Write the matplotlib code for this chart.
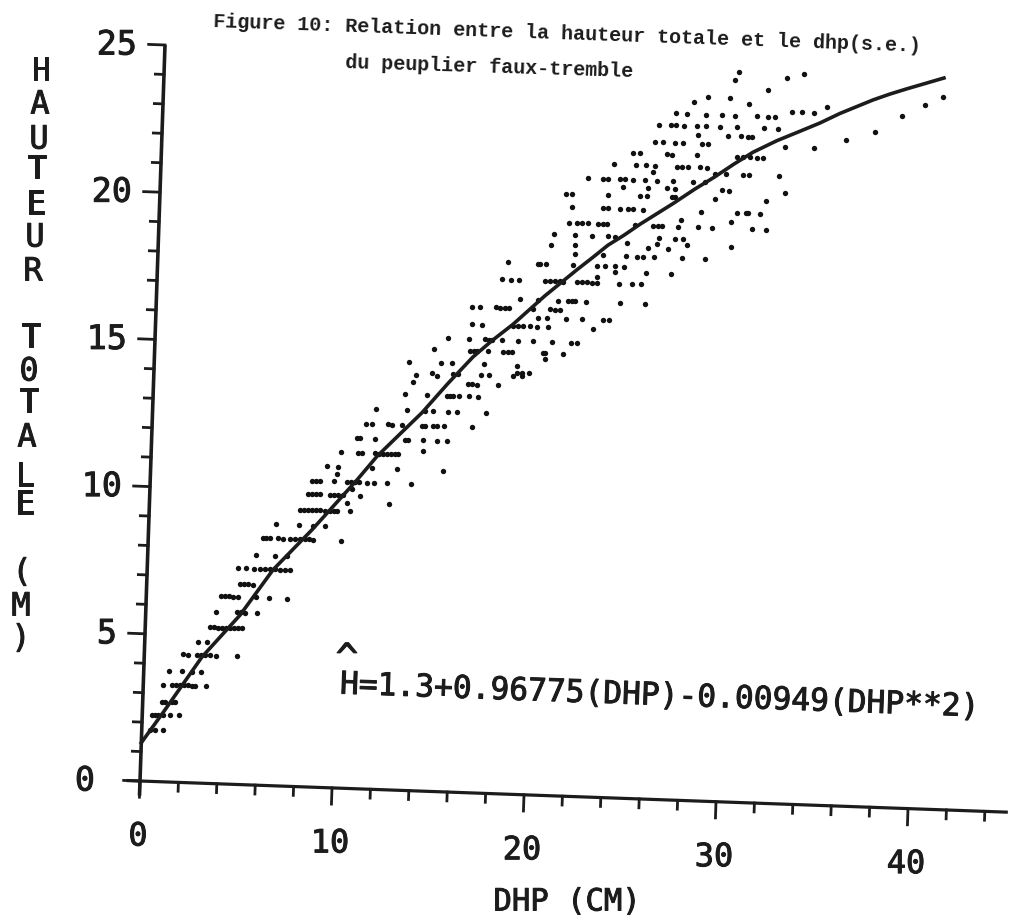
import matplotlib
matplotlib.use("Agg")
import matplotlib.pyplot as plt
import matplotlib.patheffects as pe
import numpy as np
from matplotlib.transforms import Affine2D

# heights come in rows on the printout, so the dots are kept row by row
row_heights = [1.75, 2.27, 2.72, 3.3, 3.77, 4.35, 4.8, 5.3, 5.84, 6.37,
               6.8, 7.34, 7.8, 8.4, 8.87, 9.4, 9.7, 9.95, 10.15, 10.4,
               10.65, 10.9, 11.4, 11.55, 11.9, 12.4, 12.9, 13.45, 13.86, 14.1,
               14.2, 14.3, 14.55, 14.8, 15.0, 15.4, 15.9, 16.2, 16.5, 16.8,
               17.46, 17.65, 17.85, 18.04, 18.4, 18.7, 18.85, 19.05, 19.46, 19.7,
               20.0, 20.45, 20.75, 21.0, 21.3, 21.5, 21.9, 22.3, 22.6, 22.9,
               23.3, 23.5, 23.7, 23.9, 24.2, 24.5, 24.65, 24.8]
row_dhp = [
    [0.43, 0.69, 1.11],
    [0.51, 0.66, 0.82, 1.08, 1.44, 1.91],
    [1.0, 1.16, 1.53, 1.68],
    [1.03, 1.49, 1.70, 1.91, 2.12, 2.33, 2.54, 2.69, 3.27],
    [1.31, 1.99, 2.51, 2.98],
    [2.01, 2.27, 2.74, 2.95, 3.16, 3.42, 3.73, 4.83],
    [2.77, 3.24],
    [3.37, 3.58, 3.79, 4.0, 4.2, 4.41, 4.62, 4.83, 5.04],
    [3.65, 4.75, 4.96, 5.16, 5.79],
    [3.89, 4.09, 4.30, 4.51, 4.77, 5.71, 6.39, 7.32],
    [4.85, 5.06, 5.27, 5.53],
    [4.72, 5.14, 5.56, 5.87, 6.13, 6.39, 6.65, 6.91, 7.17, 7.43],
    [5.64, 6.63, 7.25],
    [5.97, 6.13, 6.33, 6.75, 7.01, 7.38, 7.64, 7.90, 8.16, 8.36, 8.57, 10.03],
    [6.62, 7.82, 8.55, 9.18],
    [7.84, 8.05, 8.26, 8.47, 8.68, 8.89, 9.15, 9.41, 9.62, 9.77, 10.45],
    [10.28, 12.46],
    [8.23, 8.44, 8.65, 8.85, 9.38, 9.58, 9.79, 10.05, 10.94],
    [10.51],
    [8.42, 8.62, 8.83, 9.56, 10.24, 10.45, 10.66, 10.86, 11.28, 11.65, 12.32, 13.57],
    [9.7],
    [9.17, 9.74, 11.52, 12.82, 15.21],
    [9.88, 10.76, 10.97, 11.65, 11.85, 12.06, 12.27, 12.48, 12.69, 12.84],
    [14.14],
    [10.68, 10.84, 11.62, 13.18, 13.34, 14.12, 14.85, 15.37],
    [11.14, 11.44, 12.27, 12.48, 13.0, 14.04, 14.2, 14.62, 14.82, 15.19, 16.65],
    [11.62, 13.23, 14.17, 14.59, 15.37, 15.84, 17.35],
    [13.1, 14.25, 15.29, 15.44, 15.6, 15.91, 16.43, 16.9],
    [13.49, 16.36, 16.57, 16.83, 17.92],
    [13.64, 14.74],
    [14.47, 15.56, 15.82, 17.02, 17.44, 18.69, 19.16],
    [18.89, 19.15, 19.52],
    [13.26, 14.92, 15.49, 17.16, 18.87],
    [20.3],
    [14.53, 16.41, 16.61, 16.77, 17.34, 18.13, 18.39, 18.59, 20.21, 20.31, 21.25],
    [15.24, 16.33, 17.17, 17.38, 17.53, 18.05, 18.89, 19.67, 20.66, 21.65, 21.96],
    [16.46, 16.98, 18.6, 18.85, 19.11, 19.48, 19.85, 20.42, 22.77],
    [19.89, 20.35, 21.34, 22.2, 23.25, 23.6],
    [16.43, 16.85, 17.68, 17.89, 18.15, 18.36, 19.61, 20.49, 20.76, 21.02],
    [18.9, 19.85, 20.9, 21.42, 21.63, 21.78, 22.35, 24.13, 25.43],
    [17.94, 18.41, 18.83, 20.18, 20.44, 20.7, 20.96, 21.12, 21.85, 22.11, 22.37, 22.63, 22.89, 24.04, 24.71, 25.18],
    [22.88],
    [23.81, 25.43, 26.73],
    [18.23, 19.79, 19.9, 20.21, 21.61, 22.86, 23.28, 23.8, 24.27],
    [21.7, 23.16, 24.35, 24.93, 25.25, 25.81, 27.27, 28.47],
    [20.43, 21.68, 25.47, 26.53],
    [24.38, 25.95, 27.51, 29.8],
    [20.57, 21.67, 22.55, 23.39, 23.75, 26.04, 26.88, 27.29],
    [21.33, 21.74, 22.0, 22.32, 22.84, 23.1, 23.31, 24.77, 25.7, 25.96, 26.17, 27.0, 28.05, 28.78, 30.86, 31.6],
    [27.15, 29.76],
    [21.46, 23.07, 23.33, 23.96, 24.38, 24.64, 25.16, 28.18, 30.05, 30.52, 30.63, 31.25],
    [21.12, 21.43, 23.31, 24.97, 25.34, 26.64, 26.8, 28.88, 31.54],
    [24.08, 25.38, 26.37, 26.78, 29.23, 29.6, 32.51],
    [22.24, 23.02, 23.28, 23.91, 24.17, 24.58, 25.21, 25.83, 26.67, 27.71, 28.33],
    [25.6, 28.84, 29.41, 30.3, 30.61, 32.17],
    [23.57, 24.71, 25.23, 25.7, 26.85, 27.11, 27.42, 28.05, 28.41],
    [24.54, 24.9, 26.31, 26.57, 27.87, 29.95, 30.26, 30.63, 30.99, 31.31],
    [25.66, 26.08, 26.7, 27.12, 28.11, 28.42, 32.43, 33.94],
    [27.89, 29.45, 30.13, 30.49, 30.7, 35.59],
    [25.84, 26.46, 26.72, 27.14, 27.82, 28.29, 29.02, 29.9, 31.31, 32.04, 37.07],
    [26.7, 27.29, 28.27, 29.1, 29.78, 30.92, 31.49, 31.86],
    [32.73, 33.26, 33.88, 38.46],
    [27.63, 30.5, 34.55],
    [28.35, 29.48, 39.64],
    [31.45, 40.55],
    [29.72],
    [32.44],
    [29.91, 33.3],
]

curve_dhp = [0, 1.17, 3.0, 4.91, 6.55, 8.5, 10.76, 11.75, 13.0, 14.02, 15.3, 16.57, 17.5, 18.6,
             20.2, 21.83, 22.6, 23.4, 24.2, 25.03, 26.71, 27.8, 28.84, 29.8, 30.78, 32.0,
             33.19, 34.2, 35.23, 36.93, 37.8, 38.68, 40.58]
curve_h = [1.3, 2.44, 4.28, 5.75, 7.33, 8.73, 10.48, 11.3, 12.15, 12.84, 13.85, 14.79, 15.35, 15.95,
           16.95, 17.88, 18.3, 18.75, 19.1, 19.5, 20.24, 20.75, 21.2, 21.65, 22.08, 22.5,
           22.85, 23.15, 23.5, 24.0, 24.22, 24.42, 24.83]

x_ticks = np.arange(0, 46, 2)
y_ticks = np.arange(0, 26, 1)
x_labels = [0, 10, 20, 30, 40]
y_labels = [0, 5, 10, 15, 20, 25]

title_1 = "Figure 10: Relation entre la hauteur totale et le dhp(s.e.)"
title_2 = "du peuplier faux-tremble"
equation = "H=1.3+0.96775(DHP)-0.00949(DHP**2)"

INK = "#1c1c1c"
MONO = "DejaVu Sans Mono"
heavy = [pe.withStroke(linewidth=0.7, foreground=INK)]

fig = plt.figure(figsize=(10.10, 9.21), dpi=100, facecolor="white")
ax = fig.add_axes([0, 0, 1, 1])
ax.set_xlim(0, 1010)
ax.set_ylim(921, 0)
ax.axis("off")

# the page was scanned crooked, so data goes through a skewed transform
page = Affine2D.from_values(19.2, -0.69, 1.0, 29.44, 140, 140)

ax.plot([-0.7, 45.2], [0, 0], color=INK, lw=2.3, transform=page, solid_capstyle="butt")
ax.plot([0, 0], [-0.5, 25], color=INK, lw=2.6, transform=page, solid_capstyle="butt")

for t in x_ticks:
    length = 0.55 if t % 10 == 0 else 0.3
    ax.plot([t, t], [0, -length], color=INK, lw=2.0, transform=page)
for t in y_ticks:
    length = 0.85 if t % 5 == 0 else 0.45
    ax.plot([-length, 0], [t, t], color=INK, lw=2.0, transform=page)

for t in x_labels:
    ax.annotate(str(t), (t, 0), xycoords=page, xytext=(-2, -56), textcoords="offset pixels",
                ha="center", va="center", family=MONO, fontsize=23, color=INK, path_effects=heavy)
for t in y_labels:
    shift = -45 if t == 0 else -28
    ax.annotate(str(t), (0, t), xycoords=page, xytext=(shift, 0), textcoords="offset pixels",
                ha="right", va="center", family=MONO, fontsize=24, color=INK, path_effects=heavy)

for h, dhp in zip(row_heights, row_dhp):
    ax.scatter(dhp, [h] * len(dhp), s=15, color="#111111", linewidths=0, transform=page, zorder=3)

ax.plot(curve_dhp, curve_h, color=INK, lw=2.6, transform=page, zorder=4, solid_joinstyle="round")

# y axis title, one letter at a time as the plotter wrote it
for ch, px, py in [("H", 41, 72), ("A", 40, 105), ("U", 39, 140), ("T", 37, 170), ("E", 36, 205),
                   ("U", 35, 238), ("R", 33, 272), ("T", 31, 338), ("0", 29, 372), ("T", 29, 403),
                   ("A", 27, 438), ("L", 25, 477), ("E", 25, 505), ("(", 22, 573), ("M", 21, 607),
                   (")", 21, 639)]:
    ax.text(px, py, ch, ha="center", va="center", family=MONO, fontsize=23, color=INK, path_effects=heavy)

ax.text(567, 902, "DHP (CM)", ha="center", va="center", family=MONO, fontsize=22, color=INK, path_effects=heavy)

ax.text(340, 685, equation, ha="left", va="center", rotation=-2.05, rotation_mode="anchor",
        family=MONO, fontsize=22.5, color=INK, path_effects=heavy)
ax.text(347, 660, "^", ha="center", va="center", family=MONO, fontsize=27, color=INK, path_effects=heavy)

ax.text(213, 22, title_1, ha="left", va="center", rotation=-2.0, rotation_mode="anchor",
        family="Liberation Mono", fontweight="bold", fontsize=14.4, color=INK)
ax.text(345, 63, title_2, ha="left", va="center", rotation=-1.8, rotation_mode="anchor",
        family="Liberation Mono", fontweight="bold", fontsize=14.4, color=INK)

fig.savefig("out.png", dpi=100, facecolor="white")
